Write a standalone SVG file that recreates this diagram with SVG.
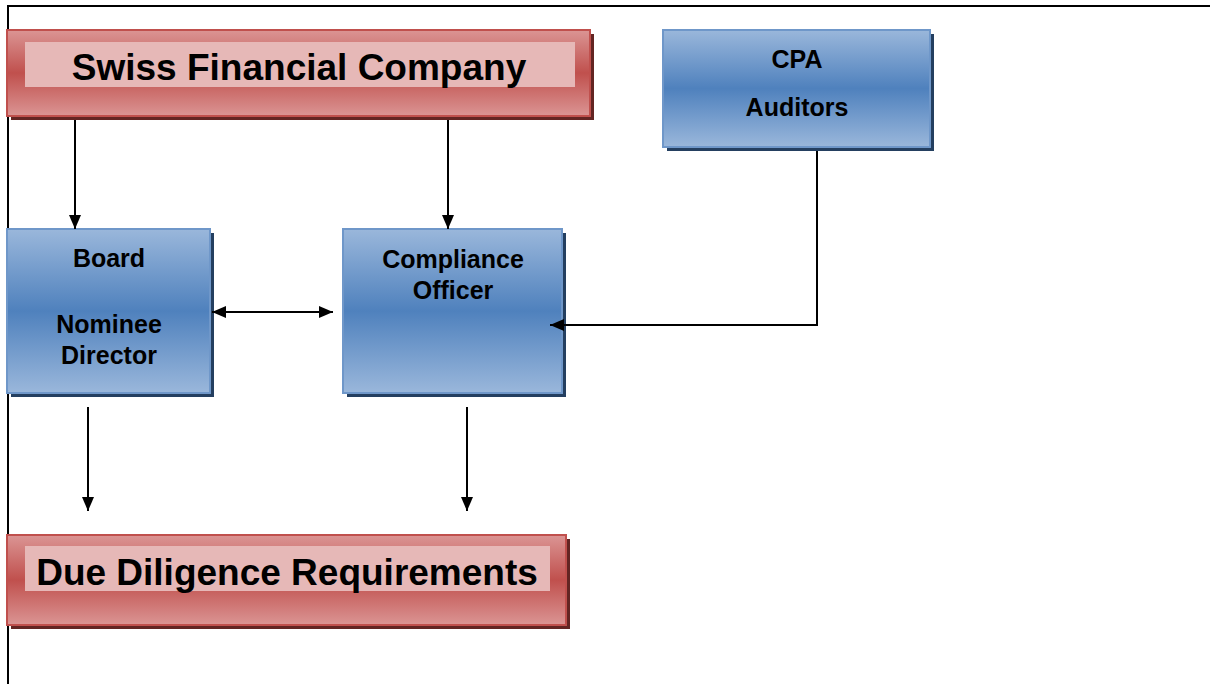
<svg xmlns="http://www.w3.org/2000/svg" width="1210" height="684" viewBox="0 0 1210 684">
<defs>
<linearGradient id="gBlue" x1="0" y1="0" x2="0" y2="1">
<stop offset="0" stop-color="#9ab7db"/>
<stop offset="0.5" stop-color="#4f81bd"/>
<stop offset="1" stop-color="#9ab7db"/>
</linearGradient>
<linearGradient id="gRed" x1="0" y1="0" x2="0" y2="1">
<stop offset="0" stop-color="#db9594"/>
<stop offset="0.5" stop-color="#c0504d"/>
<stop offset="1" stop-color="#db9594"/>
</linearGradient>
<marker id="ah" viewBox="0 0 14 12" refX="14" refY="6" markerWidth="14" markerHeight="12" markerUnits="userSpaceOnUse" orient="auto-start-reverse">
<path d="M0,0 L14,6 L0,12 z" fill="#000"/>
</marker>
<style>
.blue{fill:url(#gBlue);stroke:#6f97c9;stroke-width:2}
.bsh{fill:#243f60}
.red{fill:url(#gRed);stroke:#c0504d;stroke-width:2}
.rsh{fill:#632523}
.band{fill:#e6b8b7}
.big{font-family:"Liberation Sans",Arial,sans-serif;font-weight:bold;font-size:37px;fill:#000;text-anchor:middle}
.lbl{font-family:"Liberation Sans",Arial,sans-serif;font-weight:bold;font-size:25px;fill:#000;text-anchor:middle}
.ln{stroke:#000;stroke-width:2;fill:none}
</style>
</defs>
<rect width="1210" height="684" fill="#fff"/>
<g id="frame"><path class="ln" d="M7,6 H1210 M8,6 V684"/></g>
<g id="swiss">
<rect class="rsh" x="11" y="34" width="583" height="86"/>
<rect class="red" x="7" y="30" width="583" height="86"/>
<rect class="band" x="25" y="42" width="550" height="45"/>
<text class="big" x="299" y="80">Swiss Financial Company</text>
</g>
<g id="cpa">
<rect class="bsh" x="667" y="34" width="267" height="117"/>
<rect class="blue" x="663" y="30" width="267" height="117"/>
<text class="lbl" x="797" y="68">CPA</text>
<text class="lbl" x="797" y="116">Auditors</text>
</g>
<g id="board">
<rect class="bsh" x="11" y="233" width="203" height="164"/>
<rect class="blue" x="7" y="229" width="203" height="164"/>
<text class="lbl" x="109" y="267">Board</text>
<text class="lbl" x="109" y="333">Nominee</text>
<text class="lbl" x="109" y="364">Director</text>
</g>
<g id="compliance">
<rect class="bsh" x="347" y="233" width="219" height="164"/>
<rect class="blue" x="343" y="229" width="219" height="164"/>
<text class="lbl" x="453" y="268">Compliance</text>
<text class="lbl" x="453" y="299">Officer</text>
</g>
<g id="duediligence">
<rect class="rsh" x="11" y="539" width="559" height="90"/>
<rect class="red" x="7" y="535" width="559" height="90"/>
<rect class="band" x="25" y="546" width="525" height="45"/>
<text class="big" x="287" y="585">Due Diligence Requirements</text>
</g>
<g id="connectors">
<path class="ln" d="M75,120 V229" marker-end="url(#ah)"/>
<path class="ln" d="M448,120 V229" marker-end="url(#ah)"/>
<path class="ln" d="M212,312 H333" marker-start="url(#ah)" marker-end="url(#ah)"/>
<path class="ln" d="M817,151 V325 H550" marker-end="url(#ah)"/>
<path class="ln" d="M88,407 V511" marker-end="url(#ah)"/>
<path class="ln" d="M467,407 V511" marker-end="url(#ah)"/>
</g>
</svg>
